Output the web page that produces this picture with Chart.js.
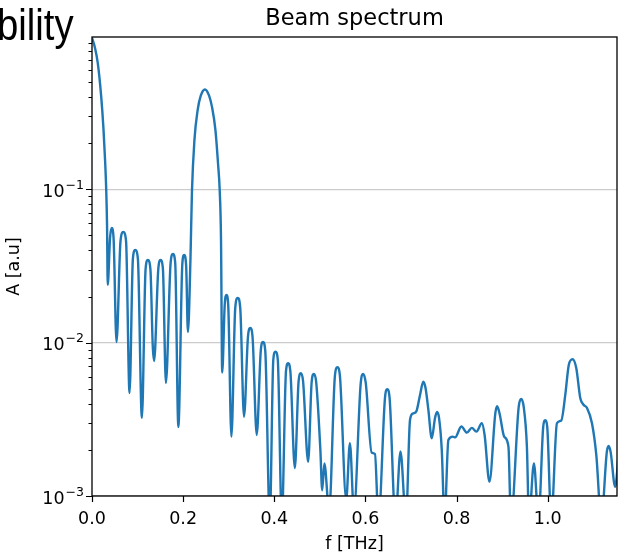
<!DOCTYPE html>
<html>
<head>
<meta charset="utf-8">
<script src="https://cdn.jsdelivr.net/npm/chart.js@4.4.1/dist/chart.umd.min.js"></script>
<style>
  html, body { margin: 0; padding: 0; background: #fff; }
  #wrap { position: relative; width: 620px; height: 555px; overflow: hidden; }
  #wrap canvas { position: absolute; left: 0; top: 0; }
  #side {
    position: absolute; left: -3px; top: 0px;
    font-family: "Liberation Sans", Arial, sans-serif; font-size: 44px; color: #000;
    transform: scaleX(0.87); transform-origin: left top;
  }
</style>
</head>
<body>
<div id="wrap">
  <canvas id="spectrum" width="620" height="555"></canvas>
  <div id="side">bility</div>
</div>
<script>
// Beam spectrum: f in THz, amplitude in a.u. (log axis)
const freq = [
  0.000, 0.0066, 0.0127, 0.0202, 0.0253, 0.0290, 0.0312, 0.0330, 0.0345, 0.0396,
  0.0433, 0.0473, 0.0538, 0.0626, 0.0686, 0.0747, 0.0824, 0.0897, 0.0949, 0.1007,
  0.1095, 0.1176, 0.1226, 0.1281, 0.1334, 0.1363, 0.1455, 0.1505, 0.1556, 0.1622,
  0.1725, 0.1776, 0.1826, 0.1895, 0.1982, 0.2022, 0.2066, 0.2105, 0.2160, 0.2193,
  0.2248, 0.2319, 0.2385, 0.2479, 0.2571, 0.2633, 0.2708, 0.2765, 0.2802, 0.2831,
  0.2857, 0.2912, 0.2949, 0.2989, 0.3059, 0.3143, 0.3198, 0.3253, 0.3336, 0.3422,
  0.3473, 0.3523, 0.3615, 0.3703, 0.3752, 0.3802, 0.3901, 0.3978, 0.4026, 0.4077,
  0.4165, 0.4257, 0.4303, 0.4352, 0.4451, 0.4534, 0.4582, 0.4631, 0.4743, 0.4820,
  0.4868, 0.4919, 0.5011, 0.5051, 0.5099, 0.5204, 0.5330, 0.5385, 0.5440, 0.5578,
  0.5659, 0.5747, 0.5897, 0.5952, 0.6007, 0.6136, 0.6209, 0.6286, 0.6429, 0.6479,
  0.6530, 0.6659, 0.6769, 0.6890, 0.6978, 0.7044, 0.7121, 0.7198, 0.7270, 0.7319,
  0.7381, 0.7455, 0.7527, 0.7571, 0.7615, 0.7675, 0.7736, 0.7820, 0.7916, 0.7967,
  0.8105, 0.8226, 0.8334, 0.8435, 0.8554, 0.8615, 0.8721, 0.8851, 0.8890, 0.8945,
  0.9044, 0.9138, 0.9193, 0.9363, 0.9418, 0.9473, 0.9543, 0.9589, 0.9697, 0.9798,
  0.9901, 0.9945, 0.9989, 1.0077, 1.0202, 1.0297, 1.0385, 1.0462, 1.0545, 1.0626,
  1.0714, 1.0780, 1.0862, 1.0971, 1.1066, 1.1176, 1.1297, 1.1336, 1.1380, 1.1479,
  1.1560
];
const amp = [
  0.972, 0.836, 0.665, 0.402, 0.244, 0.148, 0.099, 0.0586, 0.0238, 0.0482,
  0.0560, 0.0482, 0.0101, 0.0461, 0.0527, 0.0461, 0.00470, 0.0352, 0.0402, 0.0352,
  0.00323, 0.0303, 0.0346, 0.0303, 0.00938, 0.00760, 0.0303, 0.0346, 0.0303, 0.00546,
  0.0331, 0.0379, 0.0331, 0.00282, 0.0326, 0.0373, 0.0317, 0.01175, 0.0346, 0.0962,
  0.210, 0.330, 0.407, 0.448, 0.407, 0.345, 0.244, 0.148, 0.099, 0.0468,
  0.00639, 0.0176, 0.0205, 0.0176, 0.00244, 0.0168, 0.0196, 0.0168, 0.00329, 0.01089,
  0.01247, 0.01089, 0.00250, 0.00883, 0.01011, 0.00883, 0.0007, 0.00771, 0.00874, 0.00771,
  0.0007, 0.00654, 0.00734, 0.00654, 0.00152, 0.00563, 0.00632, 0.00563, 0.00167, 0.00554,
  0.00625, 0.00554, 0.00200, 0.00109, 0.00163, 0.0008, 0.00607, 0.00691, 0.00607, 0.00095,
  0.00221, 0.0008, 0.00546, 0.00625, 0.00546, 0.00192, 0.00188, 0.0007, 0.00436, 0.00497,
  0.00436, 0.0007, 0.00195, 0.0007, 0.00313, 0.00345, 0.00359, 0.00456, 0.00557, 0.00506,
  0.00364, 0.00238, 0.00323, 0.00353, 0.00323, 0.00200, 0.0007, 0.00232, 0.00244, 0.00241,
  0.00284, 0.00259, 0.00278, 0.00263, 0.00298, 0.00250, 0.00124, 0.00348, 0.00385, 0.00343,
  0.00244, 0.00210, 0.0007, 0.00381, 0.00429, 0.00381, 0.00210, 0.0007, 0.00163, 0.0007,
  0.00282, 0.00312, 0.00282, 0.0007, 0.00298, 0.00311, 0.00456, 0.00716, 0.00780, 0.00684,
  0.00436, 0.00395, 0.00375, 0.00298, 0.00185, 0.0007, 0.00194, 0.00212, 0.00194, 0.00115,
  0.00194
];

const xTicks = [0, 0.2, 0.4, 0.6, 0.8, 1.0];
const xTickLabels = ['0.0', '0.2', '0.4', '0.6', '0.8', '1.0'];
const yTicks = [
  0.001, 0.002, 0.003, 0.004, 0.005, 0.006, 0.007, 0.008, 0.009,
  0.01, 0.02, 0.03, 0.04, 0.05, 0.06, 0.07, 0.08, 0.09,
  0.1, 0.2, 0.3, 0.4, 0.5, 0.6, 0.7, 0.8, 0.9
];
// y labels are 10 with an exponent, drawn mathtext-style; '' = minor tick
const yTickExps = [
  '\u22123', '', '', '', '', '', '', '', '',
  '\u22122', '', '', '', '', '', '', '', '',
  '\u22121', '', '', '', '', '', '', '', ''
];
const xMin = 0, xMax = 1.152;
const yMin = 0.001, yMax = 0.985;

const FONT = '"DejaVu Sans", sans-serif';
const isMajor = (i) => yTickExps[i] !== '';

// matplotlib-like frame: box, outward tick marks, y labels, title over the plot area
const framePlugin = {
  id: 'frame',
  afterDatasetsDraw(chart) {
    const { ctx, chartArea: a, scales } = chart;
    ctx.save();
    ctx.strokeStyle = '#000';
    ctx.lineWidth = 1.3;
    ctx.strokeRect(a.left, a.top, a.right - a.left, a.bottom - a.top);

    ctx.lineWidth = 1.2;
    ctx.beginPath();
    xTicks.forEach(v => {
      const x = Math.round(scales.x.getPixelForValue(v)) + 0.5;
      ctx.moveTo(x, a.bottom);
      ctx.lineTo(x, a.bottom + 6);
    });
    yTicks.forEach((v, i) => {
      const y = Math.round(scales.y.getPixelForValue(v)) + 0.5;
      if (y < a.top - 0.5) return;
      ctx.moveTo(a.left, y);
      ctx.lineTo(a.left - (isMajor(i) ? 6 : 3.5), y);
    });
    ctx.stroke();

    ctx.fillStyle = '#000';
    ctx.textBaseline = 'alphabetic';
    ctx.textAlign = 'left';
    yTicks.forEach((v, i) => {
      if (!isMajor(i)) return;
      const y = scales.y.getPixelForValue(v);
      ctx.font = '12.5px ' + FONT;
      const ew = ctx.measureText(yTickExps[i]).width;
      ctx.font = '17.5px ' + FONT;
      const bw = ctx.measureText('10').width;
      const right = a.left - 8;
      const x0 = right - ew - bw - 1;
      ctx.fillText('10', x0, y + 7.5);
      ctx.font = '12.5px ' + FONT;
      ctx.fillText(yTickExps[i], x0 + bw + 1, y - 0.5);
    });

    ctx.font = '22.5px ' + FONT;
    ctx.textAlign = 'center';
    ctx.textBaseline = 'middle';
    ctx.fillText('Beam spectrum', (a.left + a.right) / 2, 19);
    ctx.restore();
  }
};

new Chart(document.getElementById('spectrum'), {
  type: 'line',
  data: {
    datasets: [{
      data: freq.map((f, i) => ({ x: f, y: amp[i] })),
      borderColor: '#1f77b4',
      borderWidth: 2.4,
      pointRadius: 0,
      cubicInterpolationMode: 'monotone',
      fill: false,
      clip: 0,
    }],
  },
  options: {
    responsive: false,
    animation: false,
    events: [],
    layout: { padding: { top: 37, right: 3, left: 0, bottom: 0 } },
    plugins: { legend: { display: false }, tooltip: { enabled: false } },
    scales: {
      x: {
        type: 'linear',
        min: xMin,
        max: xMax,
        afterBuildTicks: (s) => { s.ticks = xTicks.map(v => ({ value: v })); },
        afterFit: (s) => { s.height = 59; },
        ticks: {
          callback: (v, i) => xTickLabels[i],
          color: '#000',
          font: { family: FONT, size: 17.5 },
          padding: 13,
          maxRotation: 0,
          autoSkip: false,
        },
        grid: { display: false, drawTicks: false },
        border: { display: false },
        title: {
          display: true,
          text: 'f [THz]',
          color: '#000',
          font: { family: FONT, size: 17.5 },
          padding: { top: 0, bottom: 0 },
        },
      },
      y: {
        type: 'logarithmic',
        min: yMin,
        max: yMax,
        afterBuildTicks: (s) => { s.ticks = yTicks.map(v => ({ value: v })); },
        afterFit: (s) => { s.width = 92; },
        ticks: { display: false },
        grid: {
          color: (c) => isMajor(c.index) ? '#cccccc' : 'rgba(0,0,0,0)',
          lineWidth: 1.2,
          drawTicks: false,
        },
        border: { display: false },
        title: {
          display: true,
          text: 'A [a.u]',
          color: '#000',
          font: { family: FONT, size: 17.5 },
          padding: { top: 4, bottom: 0 },
        },
      },
    },
  },
  plugins: [framePlugin],
});
</script>
</body>
</html>
